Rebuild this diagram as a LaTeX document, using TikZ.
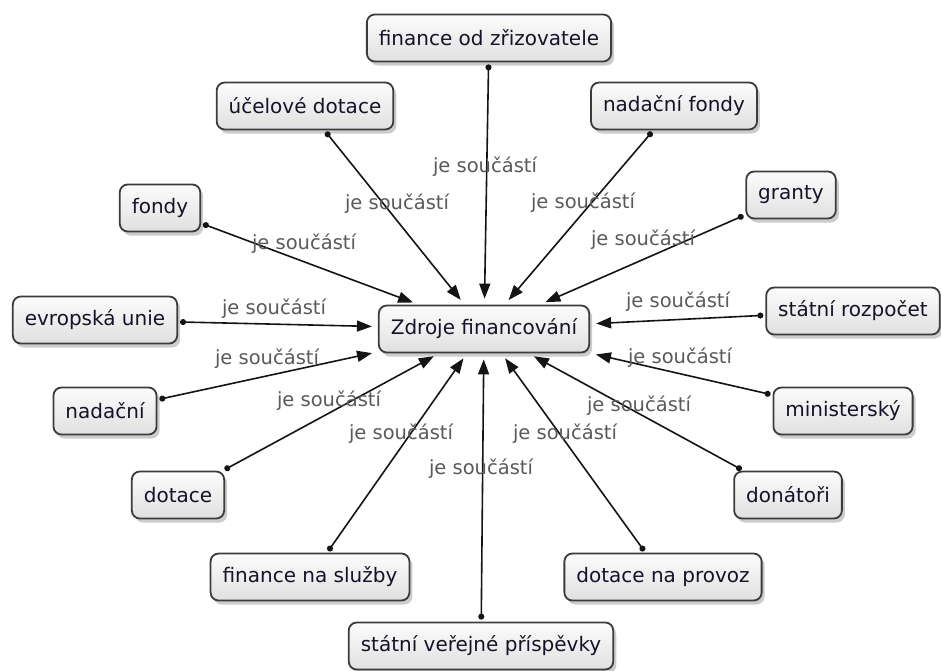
\documentclass[tikz,border=0pt]{standalone}
\usepackage{fontspec}
\setmainfont{DejaVu Sans}
\usetikzlibrary{arrows.meta,shadows}
\definecolor{boxborder}{RGB}{60,60,60}
\definecolor{boxtop}{RGB}{252,252,252}
\definecolor{boxbot}{RGB}{224,224,224}
\definecolor{txt}{RGB}{20,20,40}
\definecolor{lbl}{RGB}{90,90,90}
\definecolor{conncol}{RGB}{20,20,20}
\tikzset{
  concept/.style={draw=boxborder, line width=1.8pt, rounded corners=8pt,
    top color=boxtop, bottom color=boxbot, minimum height=47pt,
    inner xsep=12pt, inner ysep=4pt, text=txt,
    font=\fontsize{20}{23}\selectfont,
    drop shadow={shadow xshift=3pt, shadow yshift=-4pt, opacity=0.4}},
  conn/.style={draw=conncol, line width=1.6pt,
    {Circle[length=6pt,width=6pt]}-{Triangle[length=15pt,width=11pt]},
    shorten <=2pt, shorten >=6pt},
  lab/.style={text=lbl, font=\fontsize{19.5}{22}\selectfont, inner sep=0pt}
}
\begin{document}
\begin{tikzpicture}[x=1pt,y=-1pt]
\useasboundingbox[fill=white] (0,0) rectangle (941,670);

\node[concept] (zdroje) at (484,329) {Zdroje financování};

\node[concept] (zriz) at (489,38) {finance od zřizovatele};
\node[concept] (ucel) at (305,106) {účelové dotace};
\node[concept] (nadfondy) at (674,106) {nadační fondy};
\node[concept] (fondy) at (160,208) {fondy};
\node[concept] (granty) at (791,195) {granty};
\node[concept] (eu) at (95,320) {evropská unie};
\node[concept] (rozpocet) at (853,311) {státní rozpočet};
\node[concept] (nadacni) at (105,411) {nadační};
\node[concept] (minist) at (843,411) {ministerský};
\node[concept] (dotace) at (178,495) {dotace};
\node[concept] (donatori) at (788,495) {donátoři};
\node[concept] (sluzby) at (310,577) {finance na služby};
\node[concept] (provoz) at (663,577) {dotace na provoz};
\node[concept] (prispevky) at (481,646) {státní veřejné příspěvky};

\foreach \n in {zriz,ucel,nadfondy,fondy,granty,eu,rozpocet,nadacni,minist,dotace,donatori,sluzby,provoz,prispevky}
  \draw[conn] (\n) -- (zdroje);

\node[lab] (l1) at (485,167) {je součástí};
\node[lab] (l2) at (397,204) {je součástí};
\node[lab] (l3) at (583,203) {je součástí};
\node[lab] (l4) at (643,240) {je součástí};
\node[lab] (l5) at (304,244) {je součástí};
\node[lab] (l6) at (274,309) {je součástí};
\node[lab] (l7) at (267,359) {je součástí};
\node[lab] (l8) at (329,401) {je součástí};
\node[lab] (l9) at (401,434) {je součástí};
\node[lab] (l10) at (481,469) {je součástí};
\node[lab] (l11) at (565,434) {je součástí};
\node[lab] (l12) at (639,406) {je součástí};
\node[lab] (l13) at (680,358) {je součástí};
\node[lab] (l14) at (678,302) {je součástí};
\end{tikzpicture}
\end{document}
